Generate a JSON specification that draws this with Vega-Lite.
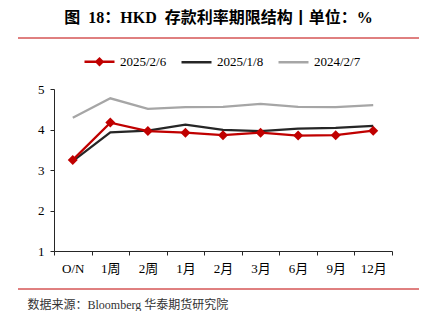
{
  "$schema": "https://vega.github.io/schema/vega-lite/v6.json",
  "padding": {"left": 17, "top": 9, "right": 0, "bottom": 0},
  "autosize": {"type": "pad"},
  "config": {
    "view": {"stroke": null},
    "font": "Liberation Serif, Noto Sans CJK SC",
    "axis": {"labelFont": "Liberation Serif, Noto Sans CJK SC", "labelColor": "#000", "domainColor": "#262626", "tickColor": "#262626", "grid": false},
    "legend": {"labelFont": "Liberation Serif, Noto Sans CJK SC", "labelColor": "#000"}
  },
  "title": {"text": "图\u00a0 18：HKD\u00a0 存款利率期限结构丨单位：%", "fontSize": 16, "fontWeight": "bold", "anchor": "middle", "offset": 12, "color": "#000", "font": "Liberation Serif, Noto Sans CJK SC"},
  "spacing": 3,
  "resolve": {"scale": {"color": "independent"}, "legend": {"color": "independent"}},
  "datasets": {
    "one": [{"v": 0}],
    "rates": [
      {"tenor": "O/N", "series": "2024/2/7", "rate": 4.29},
      {"tenor": "1周", "series": "2024/2/7", "rate": 4.77},
      {"tenor": "2周", "series": "2024/2/7", "rate": 4.51},
      {"tenor": "1月", "series": "2024/2/7", "rate": 4.55},
      {"tenor": "2月", "series": "2024/2/7", "rate": 4.56},
      {"tenor": "3月", "series": "2024/2/7", "rate": 4.63},
      {"tenor": "6月", "series": "2024/2/7", "rate": 4.56},
      {"tenor": "9月", "series": "2024/2/7", "rate": 4.55},
      {"tenor": "12月", "series": "2024/2/7", "rate": 4.60},
      {"tenor": "O/N", "series": "2025/1/8", "rate": 3.22},
      {"tenor": "1周", "series": "2025/1/8", "rate": 3.93},
      {"tenor": "2周", "series": "2025/1/8", "rate": 3.97},
      {"tenor": "1月", "series": "2025/1/8", "rate": 4.12},
      {"tenor": "2月", "series": "2025/1/8", "rate": 3.99},
      {"tenor": "3月", "series": "2025/1/8", "rate": 3.96},
      {"tenor": "6月", "series": "2025/1/8", "rate": 4.02},
      {"tenor": "9月", "series": "2025/1/8", "rate": 4.04},
      {"tenor": "12月", "series": "2025/1/8", "rate": 4.09},
      {"tenor": "O/N", "series": "2025/2/6", "rate": 3.25},
      {"tenor": "1周", "series": "2025/2/6", "rate": 4.17},
      {"tenor": "2周", "series": "2025/2/6", "rate": 3.96},
      {"tenor": "1月", "series": "2025/2/6", "rate": 3.92},
      {"tenor": "2月", "series": "2025/2/6", "rate": 3.86},
      {"tenor": "3月", "series": "2025/2/6", "rate": 3.92},
      {"tenor": "6月", "series": "2025/2/6", "rate": 3.85},
      {"tenor": "9月", "series": "2025/2/6", "rate": 3.86},
      {"tenor": "12月", "series": "2025/2/6", "rate": 3.97}
    ]
  },
  "vconcat": [
    {
      "width": 338,
      "height": 4,
      "data": {"name": "one"},
      "mark": {"type": "rule", "color": "#c00000", "strokeWidth": 1},
      "encoding": {
        "x": {"datum": 0, "type": "quantitative", "scale": {"domain": [0, 1], "range": [-36, 365]}, "axis": null},
        "x2": {"datum": 1},
        "y": {"datum": 1, "type": "quantitative", "scale": {"domain": [0, 1]}, "axis": null}
      }
    },
    {
      "width": 338,
      "height": 162,
      "data": {"name": "rates"},
      "encoding": {
        "x": {"field": "tenor", "type": "nominal", "sort": ["O/N", "1周", "2周", "1月", "2月", "3月", "6月", "9月", "12月"],
              "scale": {"type": "band", "paddingInner": 0, "paddingOuter": 0},
              "axis": {"title": null, "labelAngle": 0, "tickBand": "extent", "tickSize": 4, "labelPadding": 7, "labelFontSize": 13}},
        "y": {"field": "rate", "type": "quantitative", "scale": {"domain": [1, 5], "nice": false, "zero": false},
              "axis": {"title": null, "values": [1, 2, 3, 4, 5], "tickSize": 4, "labelPadding": 6, "labelFontSize": 13}}
      },
      "layer": [
        {
          "mark": {"type": "line", "strokeWidth": 2.25},
          "encoding": {
            "color": {"field": "series", "type": "nominal",
                      "scale": {"domain": ["2025/2/6", "2025/1/8", "2024/2/7"], "range": ["#c00000", "#262626", "#a6a6a6"]},
                      "legend": {"title": null, "orient": "none", "legendX": 29, "legendY": -44, "direction": "horizontal", "symbolType": "stroke", "symbolSize": 900,
                                 "symbolStrokeWidth": 2.5, "labelFontSize": 13, "labelOffset": 4, "columnPadding": 9,
                                 "encode": {"symbols": {"update": {
                                   "shape": [{"test": "datum.value === '2025/2/6'", "value": "M-1,0L1,0M-0.2,0L0,-0.2L0.2,0L0,0.2Z"}, {"value": "stroke"}],
                                   "fill": [{"test": "datum.value === '2025/2/6'", "value": "#c00000"}, {"value": "transparent"}]
                                 }}}}}
          }
        },
        {
          "transform": [{"filter": "datum.series === '2025/2/6'"}],
          "mark": {"type": "point", "shape": "diamond", "filled": true, "size": 100, "opacity": 1, "color": "#c00000"},
          "encoding": {}
        }
      ]
    },
    {
      "width": 338,
      "height": 11,
      "data": {"name": "one"},
      "mark": {"type": "rule", "color": "#c00000", "strokeWidth": 1},
      "encoding": {
        "x": {"datum": 0, "type": "quantitative", "scale": {"domain": [0, 1], "range": [-36, 365]}, "axis": null},
        "x2": {"datum": 1},
        "y": {"datum": 0, "type": "quantitative", "scale": {"domain": [0, 1]}, "axis": null}
      },
      "title": {"text": "数据来源：Bloomberg 华泰期货研究院", "orient": "bottom", "anchor": "start", "fontSize": 12, "fontWeight": "normal", "color": "#333", "offset": 10, "dx": 10, "font": "Liberation Serif, Noto Sans CJK SC"}
    }
  ]
}
